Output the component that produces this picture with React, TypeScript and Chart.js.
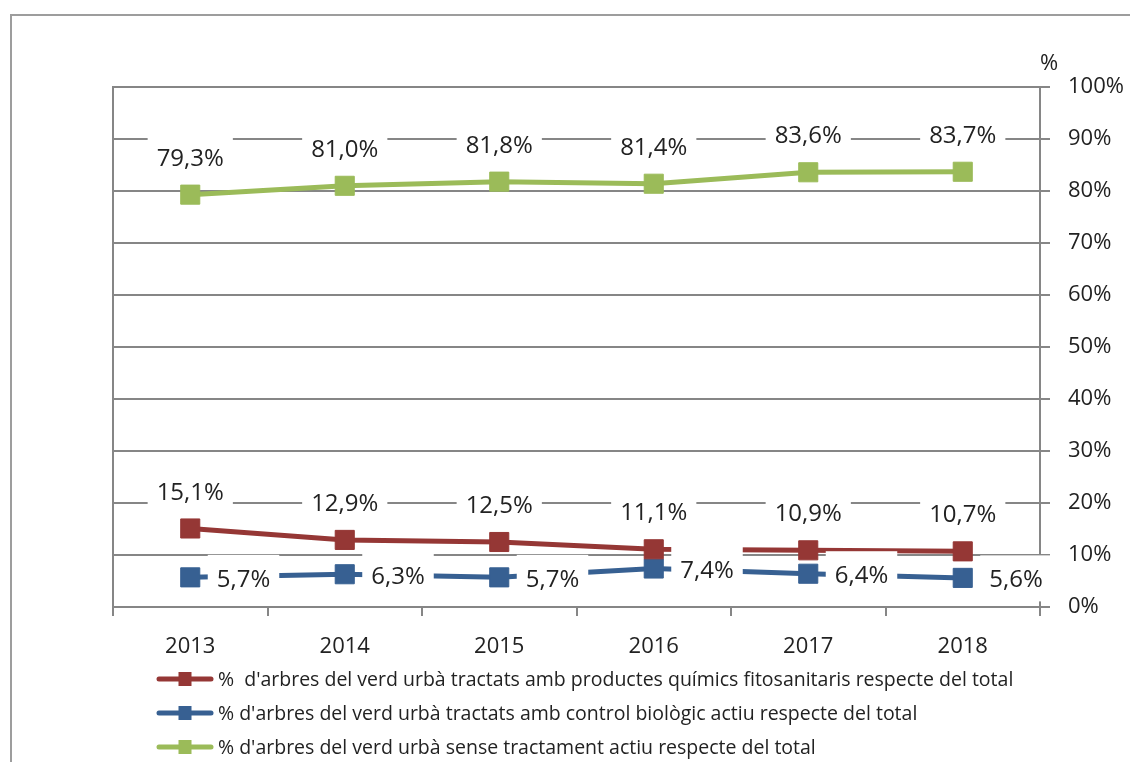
import React, { useEffect, useRef } from 'react';
import { Chart, registerables } from 'chart.js';

Chart.register(...registerables);

// ---- Data ----
const years = ['2013', '2014', '2015', '2016', '2017', '2018'];
const quimics = [15.1, 12.9, 12.5, 11.1, 10.9, 10.7];
const biologic = [5.7, 6.3, 5.7, 7.4, 6.4, 5.6];
const senseTractament = [79.3, 81.0, 81.8, 81.4, 83.6, 83.7];
const seriesLabels = [
  "%  d'arbres del verd urbà tractats amb productes químics fitosanitaris respecte del total",
  "% d'arbres del verd urbà tractats amb control biològic actiu respecte del total",
  "% d'arbres del verd urbà sense tractament actiu respecte del total",
];
const yMin = 0;
const yMax = 100;
const yStep = 10;
const axisUnit = '%';

// ---- Styles ----
const RED = '#953735';
const BLUE = '#376092';
const GREEN = '#9BBB59';
const GRID = '#868686';
const FRAME = '#9d9d9d';
const TEXT = '#222222';
const FONT = '"Open Sans", "Noto Sans", sans-serif';

const fmt = (v: number) => v.toFixed(1).replace('.', ',') + '%';

const frameAndExtrasPlugin = {
  id: 'frameAndExtras',
  beforeDraw(chart: any) {
    const ctx = chart.ctx;
    ctx.save();
    ctx.strokeStyle = FRAME;
    ctx.lineWidth = 2;
    ctx.beginPath();
    ctx.moveTo(11, chart.height + 5);
    ctx.lineTo(11, 15);
    ctx.lineTo(chart.width + 5, 15);
    ctx.stroke();
    ctx.restore();
  },
  beforeDatasetsDraw(chart: any) {
    const ctx = chart.ctx;
    const a = chart.chartArea;
    ctx.save();
    ctx.strokeStyle = GRID;
    ctx.lineWidth = 2;
    ctx.beginPath();
    ctx.moveTo(a.left, a.top - 1);
    ctx.lineTo(a.left, a.bottom);
    ctx.stroke();
    // unit title above right axis
    ctx.fillStyle = TEXT;
    ctx.font = '22px ' + FONT;
    ctx.textAlign = 'center';
    ctx.textBaseline = 'alphabetic';
    ctx.fillText(axisUnit, a.right + 9, a.top - 25 + 8);
    ctx.restore();
  },
};

const valueLabelPlugin = {
  id: 'valueLabels',
  afterDatasetsDraw(chart: any) {
    const ctx = chart.ctx;
    ctx.save();
    ctx.font = '24px ' + FONT;
    ctx.textAlign = 'left';
    ctx.textBaseline = 'alphabetic';
    chart.data.datasets.forEach((ds: any, di: number) => {
      const meta = chart.getDatasetMeta(di);
      meta.data.forEach((pt: any, i: number) => {
        const txt = fmt(ds.data[i]);
        const w = ctx.measureText(txt).width;
        let tx: number;
        let cy: number;
        if (ds.labelPos === 'right') {
          tx = pt.x + 26.5;
          cy = pt.y + 1;
        } else {
          tx = pt.x - w / 2;
          cy = pt.y - 37.5;
        }
        ctx.fillStyle = '#ffffff';
        ctx.fillRect(tx - 9, cy - 23.5, w + 18, 46);
        ctx.fillStyle = TEXT;
        ctx.fillText(txt, tx, cy + 8.6);
      });
    });
    ctx.restore();
  },
};

const legendPlugin = {
  id: 'customLegend',
  afterDraw(chart: any) {
    const ctx = chart.ctx;
    const x0 = 157;
    const x1 = 213;
    const y0 = 679;
    const row = 34;
    ctx.save();
    chart.data.datasets.forEach((ds: any, i: number) => {
      const y = y0 + i * row;
      ctx.strokeStyle = ds.borderColor;
      ctx.lineWidth = 5;
      ctx.lineCap = 'round';
      ctx.beginPath();
      ctx.moveTo(x0 + 2, y);
      ctx.lineTo(x1 - 2, y);
      ctx.stroke();
      ctx.fillStyle = ds.borderColor;
      ctx.fillRect((x0 + x1) / 2 - 6.5, y - 7, 13, 14);
      ctx.fillStyle = TEXT;
      ctx.font = '19.5px ' + FONT;
      ctx.textAlign = 'left';
      ctx.textBaseline = 'middle';
      ctx.fillText(ds.label, x1 + 5, y + 1);
    });
    ctx.restore();
  },
};

export default function App() {
  const canvasRef = useRef<HTMLCanvasElement | null>(null);

  useEffect(() => {
    if (!canvasRef.current) return;
    const mk = (label: string, data: number[], color: string, labelPos: string) => ({
      label,
      data,
      borderColor: color,
      backgroundColor: color,
      borderWidth: 5,
      pointStyle: 'rect',
      pointRadius: 13.5,
      pointHoverRadius: 13.5,
      pointBackgroundColor: color,
      pointBorderColor: color,
      pointBorderWidth: 1,
      tension: 0,
      fill: false,
      labelPos,
    });
    const chart = new Chart(canvasRef.current, {
      type: 'line',
      data: {
        labels: years,
        datasets: [
          mk(seriesLabels[0], quimics, RED, 'top'),
          mk(seriesLabels[1], biologic, BLUE, 'right'),
          mk(seriesLabels[2], senseTractament, GREEN, 'top'),
        ] as any,
      },
      options: {
        responsive: true,
        maintainAspectRatio: false,
        animation: false,
        events: [],
        layout: { padding: { left: 113, top: 87, right: 0, bottom: 0 } },
        plugins: {
          legend: { display: false },
          tooltip: { enabled: false },
          title: { display: false },
        },
        scales: {
          x: {
            type: 'category',
            offset: true,
            grid: {
              offset: true,
              drawOnChartArea: false,
              drawTicks: true,
              tickLength: 9,
              color: GRID,
              lineWidth: 2,
            },
            border: { display: true, color: GRID, width: 2 },
            ticks: {
              color: TEXT,
              font: { family: FONT, size: 22 },
              padding: 18,
              maxRotation: 0,
            },
            afterFit: (scale: any) => {
              scale.height = 155;
            },
          },
          y: {
            position: 'right',
            min: yMin,
            max: yMax,
            grid: {
              color: GRID,
              lineWidth: 2,
              drawTicks: true,
              tickLength: 10,
            },
            border: { display: true, color: GRID, width: 2 },
            ticks: {
              stepSize: yStep,
              color: TEXT,
              font: { family: FONT, size: 22 },
              padding: 18,
              callback: (v: any) => v + '%',
            },
            afterFit: (scale: any) => {
              scale.width = 90;
            },
          },
        },
      } as any,
      plugins: [frameAndExtrasPlugin, valueLabelPlugin, legendPlugin],
    });
    return () => chart.destroy();
  }, []);

  return (
    <div style={{ position: 'fixed', left: 0, top: 0, width: 1130, height: 762, background: '#fff' }}>
      <canvas ref={canvasRef} />
    </div>
  );
}
